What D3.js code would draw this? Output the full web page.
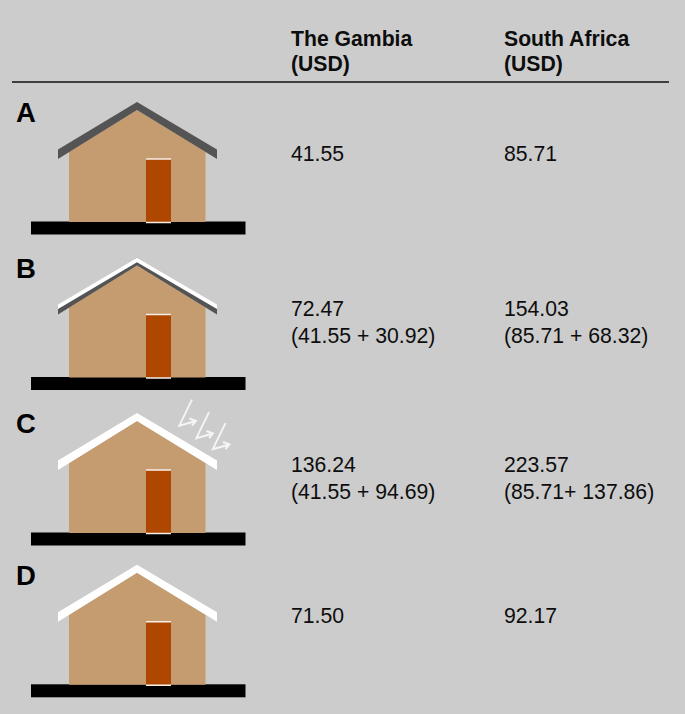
<!DOCTYPE html>
<html>
<head>
<meta charset="utf-8">
<script src="https://cdn.jsdelivr.net/npm/d3@7"></script>
<style>
html, body { margin: 0; padding: 0; background: #cccccc; }
svg { display: block; }
text { font-family: "Liberation Sans", Arial, sans-serif; fill: #0d0d0d; }
</style>
</head>
<body>
<script>
const rows = ["A", "B", "C", "D"];
const columns = ["The Gambia", "South Africa"];
const gambiaValues = ["41.55", "72.47", "136.24", "71.50"];
const gambiaDetail = ["", "(41.55 + 30.92)", "(41.55 + 94.69)", ""];
const southAfricaValues = ["85.71", "154.03", "223.57", "92.17"];
const southAfricaDetail = ["", "(85.71 + 68.32)", "(85.71+ 137.86)", ""];
const unit = "(USD)";
const roofLayers = [
    ["grey"],
    ["grey", "white"],
    ["white"],
    ["white"]
];
const solarRows = ["C"];
const solarBolts = [0, 1, 2];

const wSvg = 685;
const hSvg = 714;
const fontSize = 21.2;

const svg = d3.select("body")
    .append("svg")
    .attr("width", wSvg)
    .attr("height", hSvg);

svg.append("rect")
    .attr("width", wSvg)
    .attr("height", hSvg)
    .attr("fill", "#cccccc");

let rowScale = d3.scaleOrdinal(rows, [0, 155.5, 311, 462.8]);
let columnScale = d3.scaleOrdinal(columns, [291, 504]);
let boltX = d3.scaleOrdinal(solarBolts, [0, 17, 33.5]);
let boltY = d3.scaleOrdinal(solarBolts, [0, 12.5, 23.5]);

// header
let header = svg.append("g");
header.selectAll("text.name")
    .data(columns)
    .enter()
    .append("text")
    .attr("class", "name")
    .attr("x", d => columnScale(d))
    .attr("y", 45.5)
    .attr("font-size", fontSize)
    .attr("font-weight", "bold")
    .text(d => d);
header.selectAll("text.unit")
    .data(columns)
    .enter()
    .append("text")
    .attr("class", "unit")
    .attr("x", d => columnScale(d))
    .attr("y", 71)
    .attr("font-size", fontSize)
    .attr("font-weight", "bold")
    .text(unit);
header.append("line")
    .attr("x1", 12)
    .attr("x2", 669)
    .attr("y1", 82)
    .attr("y2", 82)
    .attr("stroke", "#111")
    .attr("stroke-width", 1.4);

// one group per row, drawn in row A's coordinates
let row = svg.selectAll("g.row")
    .data(rows)
    .enter()
    .append("g")
    .attr("class", "row")
    .attr("transform", d => `translate(0, ${rowScale(d)})`);

row.append("text")
    .attr("x", 16)
    .attr("y", 122)
    .attr("font-size", 27.5)
    .attr("font-weight", "bold")
    .style("fill", "#000")
    .text(d => d);

row.append("rect")
    .attr("x", 31)
    .attr("y", 221.5)
    .attr("width", 214.5)
    .attr("height", 13)
    .attr("fill", "#000");

row.append("path")
    .attr("d", "M69,152 L137,110 L205.5,152 L205.5,222 L69,222 Z")
    .attr("fill", "#c59b70");

row.append("rect")
    .attr("x", 146)
    .attr("y", 159)
    .attr("width", 25)
    .attr("height", 63)
    .attr("fill", "#ae4700");
row.append("path")
    .attr("d", "M146,159 H171 M146,222.5 H171")
    .attr("stroke", "#f7efe6")
    .attr("stroke-width", 1.4);

const roofFull = "M58,149.5 L137,102 L217,149.5 L217,159 L137,110 L58,159 Z";
const roofCoating = "M58,149 L137,102 L217,149 L217,153.5 L137,106.8 L58,153.5 Z";

row.each(function (d, i) {
    let g = d3.select(this);
    let layers = roofLayers[i];
    for (let layer of layers) {
        g.append("path")
            .attr("d", layer == "white" && layers.length > 1 ? roofCoating : roofFull)
            .attr("fill", layer == "grey" ? "#545454" : "#fff");
    }
    if (solarRows.includes(d)) {
        g.selectAll("path.bolt")
            .data(solarBolts)
            .enter()
            .append("path")
            .attr("class", "bolt")
            .attr("fill", "none")
            .attr("stroke", "#f5f5f5")
            .attr("stroke-width", 1.9)
            .attr("transform", b => `translate(${boltX(b)}, ${boltY(b)})`)
            .attr("d", "M192,88.7 L179.3,114.7 L196,110 M189.5,107.5 L196,110 L192,114.5");
    }
});

// values
let valueColumns = [
    {name: columns[0], values: gambiaValues, detail: gambiaDetail},
    {name: columns[1], values: southAfricaValues, detail: southAfricaDetail}
];
for (let col of valueColumns) {
    row.append("text")
        .attr("x", columnScale(col.name))
        .attr("y", 160.5)
        .attr("font-size", fontSize)
        .text((d, i) => col.values[i]);
    row.append("text")
        .attr("x", columnScale(col.name))
        .attr("y", 187.5)
        .attr("font-size", fontSize)
        .text((d, i) => col.detail[i]);
}
</script>
</body>
</html>
